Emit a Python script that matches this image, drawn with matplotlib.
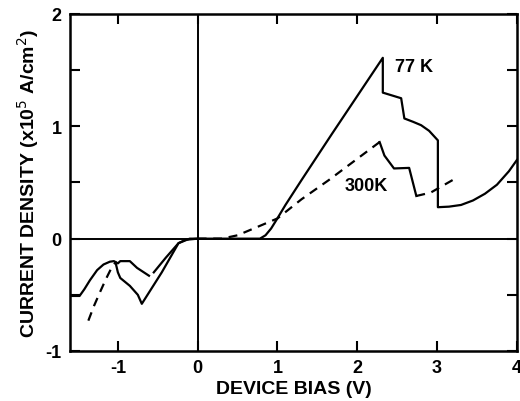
import matplotlib
matplotlib.use("Agg")
import matplotlib.pyplot as plt
import numpy as np

plt.rcParams['font.family'] = ['Liberation Sans', 'DejaVu Sans']

# 77 K (solid)
x77 = [-1.6, -1.48, -1.42, -1.35, -1.26, -1.18, -1.1, -1.05, -1.0, -0.97, -0.85,
       -0.76, -0.61, np.nan,
       -0.55, -0.40, -0.24, -0.15, 0.0, 0.5, 0.78, 0.85, 0.92, 0.99, 1.1, 1.3,
       1.68, 2.0, 2.32,
       2.32, 2.55, 2.59, 2.7, 2.8, 2.9, 3.01,
       3.01, 3.15, 3.3, 3.45, 3.6, 3.75, 3.9, 4.0]
y77 = [-0.51, -0.51, -0.45, -0.37, -0.28, -0.23, -0.205, -0.2, -0.22, -0.2, -0.2,
       -0.26, -0.33, np.nan,
       -0.30, -0.17, -0.04, -0.01, 0.0, 0.0, 0.0, 0.03, 0.09, 0.17, 0.30, 0.52,
       0.93, 1.27, 1.61,
       1.30, 1.25, 1.07, 1.04, 1.01, 0.96, 0.875,
       0.28, 0.285, 0.30, 0.34, 0.40, 0.48, 0.60, 0.70]

# 300 K negative side: dashed part then solid part
x300_neg_dash = [-1.37, -1.3, -1.22, -1.15, -1.08, -1.03]
y300_neg_dash = [-0.73, -0.6, -0.47, -0.36, -0.26, -0.21]
x300_neg_solid = [-1.03, -1.0, -0.97, -0.85, -0.75, -0.70, -0.45, -0.24, -0.10, 0.0]
y300_neg_solid = [-0.21, -0.3, -0.35, -0.42, -0.5, -0.58, -0.30, -0.04, 0.0, 0.0]

# 300 K positive side: dashed rise, solid drop, dashed tail
x300_rise = [0.0, 0.3, 0.5, 0.7, 0.9, 1.0, 1.3, 1.64, 2.28]
y300_rise = [0.0, 0.0, 0.03, 0.09, 0.15, 0.18, 0.35, 0.52, 0.86]
x300_drop = [2.28, 2.34, 2.46, 2.65, 2.74]
y300_drop = [0.86, 0.74, 0.625, 0.63, 0.38]
x300_tail = [2.74, 2.92, 3.24]
y300_tail = [0.38, 0.41, 0.54]

fig = plt.figure(figsize=(5.2, 4.02), dpi=100)
ax = fig.add_axes([0.1346, 0.1244, 0.8594, 0.8383])

lw = 1.6
ax.plot(x77, y77, color='black', lw=lw)
ax.plot(x300_neg_dash, y300_neg_dash, color='black', lw=lw, ls=(0, (4, 3)))
ax.plot(x300_neg_solid, y300_neg_solid, color='black', lw=lw)
ax.plot(x300_rise, y300_rise, color='black', lw=lw, ls=(0, (4, 3)))
ax.plot(x300_drop, y300_drop, color='black', lw=lw)
ax.plot(x300_tail, y300_tail, color='black', lw=lw, ls=(0, (4, 3)))

ax.axhline(0, color='black', lw=1.4)
ax.axvline(0, color='black', lw=1.4)

ax.set_xlim(-1.6, 4)
ax.set_ylim(-1, 2)
ax.set_xticks([-1, 0, 1, 2, 3, 4])
ax.set_xticklabels(['-1', '0', '1', '2', '3', '4'])
ax.set_yticks([-1, -0.5, 0, 0.5, 1, 1.5, 2])
ax.set_yticklabels(['-1', '', '0', '', '1', '', '2'])
ax.tick_params(direction='in', top=True, right=True, length=7, width=1.5,
               labelsize=13, pad=6)
for lab in ax.get_xticklabels() + ax.get_yticklabels():
    lab.set_fontweight('bold')
for s in ax.spines.values():
    s.set_linewidth(1.8)

ax.text(2.47, 1.53, '77 K', fontsize=13, fontweight='bold', va='center', ha='left')
ax.text(1.84, 0.47, '300K', fontsize=13, fontweight='bold', va='center', ha='left')

ax.set_xlabel('DEVICE BIAS (V)', fontsize=14, fontweight='bold', labelpad=3)
ax.set_ylabel('CURRENT DENSITY (x10$^5$ A/cm$^2$)', fontsize=14, fontweight='bold', labelpad=3)

fig.savefig('out.png', dpi=100)
